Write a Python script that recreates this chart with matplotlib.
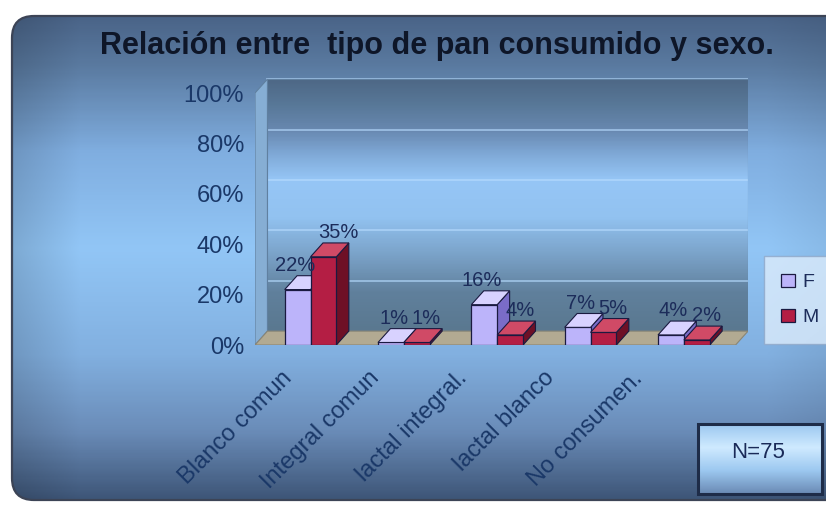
import numpy as np
import matplotlib
matplotlib.use("Agg")
import matplotlib.pyplot as plt
from matplotlib.colors import LinearSegmentedColormap
from matplotlib.patches import FancyBboxPatch, Polygon, Rectangle

plt.rcParams['font.family'] = ['Liberation Sans', 'DejaVu Sans']

# datos
categorias = ['Blanco comun', 'Integral comun', 'lactal integral.', 'lactal blanco', 'No consumen.']
pct_f = [22, 1, 16, 7, 4]
pct_m = [35, 1, 4, 5, 2]
series = [('F', pct_f), ('M', pct_m)]
ticks_y = [0, 20, 40, 60, 80, 100]
titulo = 'Relación entre  tipo de pan consumido y sexo.'
nota = 'N=75'

W, H = 826, 509
fig = plt.figure(figsize=(W / 100, H / 100), dpi=100)
fig.patch.set_facecolor('white')

# fondo del panel con degradado (coordenadas en pixeles)
bg = fig.add_axes([0, 0, 1, 1])
bg.set_xlim(0, W)
bg.set_ylim(H, 0)
bg.axis('off')

panel_cmap = LinearSegmentedColormap.from_list('panel', [
    (0.00, '#4a6488'), (0.10, '#5a7aa0'), (0.28, '#80aee0'),
    (0.48, '#92c6f6'), (0.70, '#82b0e0'), (0.86, '#6a8cb8'), (1.00, '#3e5678')])
gy = np.linspace(0, 1, 300)[:, None]
gx = np.linspace(0, 1, 400)[None, :]
base = panel_cmap(gy)[:, :, :3] * np.ones((1, 400, 1))
shade = 0.86 + 0.14 * np.clip(gx / 0.08, 0, 1)
shade = shade * (1 - 0.08 * np.clip((gx - 0.9) / 0.1, 0, 1))
img = base * shade[:, :, None]

panel = FancyBboxPatch((12, 16), 840, 484, boxstyle='round,pad=0,rounding_size=22',
                       facecolor='none', edgecolor='#3c4456', linewidth=1.6, zorder=2)
bg.add_patch(panel)
im = bg.imshow(img, extent=(12, 852, 500, 16), aspect='auto', zorder=1)
im.set_clip_path(panel)

bg.text(437, 46, titulo, ha='center', va='center', fontsize=22,
        fontweight='bold', color='#0e1628', zorder=5)

# recuadro N
nbox_cmap = LinearSegmentedColormap.from_list('nbox', ['#9cc8f0', '#cfeaff', '#9cc8f0', '#6a8ab4'])
bg.imshow(nbox_cmap(np.linspace(0, 1, 100))[:, None, :3], extent=(698, 822, 494, 424),
          aspect='auto', zorder=3)
bg.add_patch(Rectangle((698, 424), 124, 70, facecolor='none', edgecolor='#1e2c48',
                       linewidth=2.2, zorder=4))
bg.text(758, 452, nota, ha='center', va='center', fontsize=16, color='#1a2a58', zorder=5)

# grafico de barras con efecto 3D
ax = fig.add_axes([255 / W, 1 - 345 / H, 493 / W, (345 - 67.8) / H])
ax.patch.set_alpha(0)
for s in ax.spines.values():
    s.set_visible(False)

dx, dy = 0.13, 5.5
xmax = 5.15

# pared del fondo
wall_cmap = LinearSegmentedColormap.from_list('wall', [
    (0.00, '#5a7890'), (0.15, '#60809c'), (0.30, '#7aa2c8'), (0.45, '#92c2f0'),
    (0.60, '#96c6f6'), (0.70, '#80aad8'), (0.80, '#6888b0'), (0.90, '#587898'),
    (1.00, '#4e6886')])
ax.imshow(wall_cmap(np.linspace(1, 0, 200))[:, None, :3],
          extent=(dx, xmax, dy, 100 + dy), aspect='auto', zorder=0)
ax.set_xlim(0, xmax)
ax.set_ylim(0, 110)
for g in ticks_y[1:]:
    ax.plot([dx, xmax], [g + dy, g + dy], color='#b8dcff', lw=1.2, alpha=0.7, zorder=1)
ax.plot([dx, xmax, xmax, dx, dx], [dy, dy, 100 + dy, 100 + dy, dy], color='#6080a0', lw=0.8, zorder=1)

# pared lateral y piso
ax.add_patch(Polygon([(0, 0), (dx, dy), (dx, 100 + dy), (0, 100)], closed=True,
                     facecolor='#86aed4', edgecolor='#6080a0', lw=0.8, zorder=1))
ax.add_patch(Polygon([(0, 0), (xmax - dx, 0), (xmax, dy), (dx, dy)], closed=True,
                     facecolor='#b2aa92', edgecolor='#8a8676', lw=0.8, zorder=1))

colores = {'F': ('#bcb4fa', '#7a6cc8', '#d8d2ff'), 'M': ('#b41e44', '#6e1026', '#d04a66')}
centros = 0.58 + 0.975 * np.arange(len(categorias))
ancho = 0.27
handles = []
z = 3
for i, c in enumerate(centros):
    for k, (nombre, vals) in enumerate(series):
        v = vals[i]
        x0 = c - ancho + k * ancho
        frente, lado, tapa = colores[nombre]
        ax.add_patch(Polygon([(x0 + ancho, 0), (x0 + ancho + dx, dy), (x0 + ancho + dx, v + dy),
                              (x0 + ancho, v)], closed=True, facecolor=lado,
                             edgecolor='#1a1a40', lw=0.8, zorder=z))
        b = ax.bar(x0, v, width=ancho, align='edge', color=frente,
                   edgecolor='#1a1a40', linewidth=0.9, zorder=z + 1, label=nombre)
        ax.add_patch(Polygon([(x0, v), (x0 + dx, v + dy), (x0 + ancho + dx, v + dy),
                              (x0 + ancho, v)], closed=True, facecolor=tapa,
                             edgecolor='#1a1a40', lw=0.8, zorder=z + 2))
        if i == 0:
            handles.append(b)
        z += 3

# etiquetas de valor: F hacia la izquierda, M hacia la derecha
for i, c in enumerate(centros):
    for k, (nombre, vals) in enumerate(series):
        v = vals[i]
        xc = c + dx / 2 + (-0.02 if k == 0 else 0.02)
        ax.text(xc, v + dy + 0.3, f'{v}%', ha='right' if k == 0 else 'left', va='bottom',
                fontsize=14.5, color='#1c2c5a', zorder=60)

ax.set_yticks(ticks_y)
ax.set_yticklabels([f'{t}%' for t in ticks_y], fontsize=17, color='#1a3868')
# las etiquetas de categoria terminan un poco a la izquierda de cada grupo
ax.set_xticks(0.27 + 0.915 * np.arange(len(categorias)))
ax.set_xticklabels(categorias, rotation=45, ha='right', va='top', rotation_mode='anchor',
                   fontsize=17, color='#1a3868')
ax.tick_params(axis='both', length=0, pad=8)
ax.tick_params(axis='x', pad=16)

leg = fig.legend(handles=handles, labels=['F', 'M'], loc='center left',
                 bbox_to_anchor=(760 / W, 1 - 300 / H), frameon=True, fontsize=14,
                 handlelength=0.7, handleheight=0.7, handletextpad=0.4,
                 labelspacing=0.9, borderpad=0.6)
leg.get_frame().set_facecolor('#dcecfc')
leg.get_frame().set_edgecolor('#90a8c8')
leg.get_frame().set_boxstyle('square')
for t in leg.get_texts():
    t.set_color('#1c2c5a')

fig.savefig('out.png', dpi=100)
